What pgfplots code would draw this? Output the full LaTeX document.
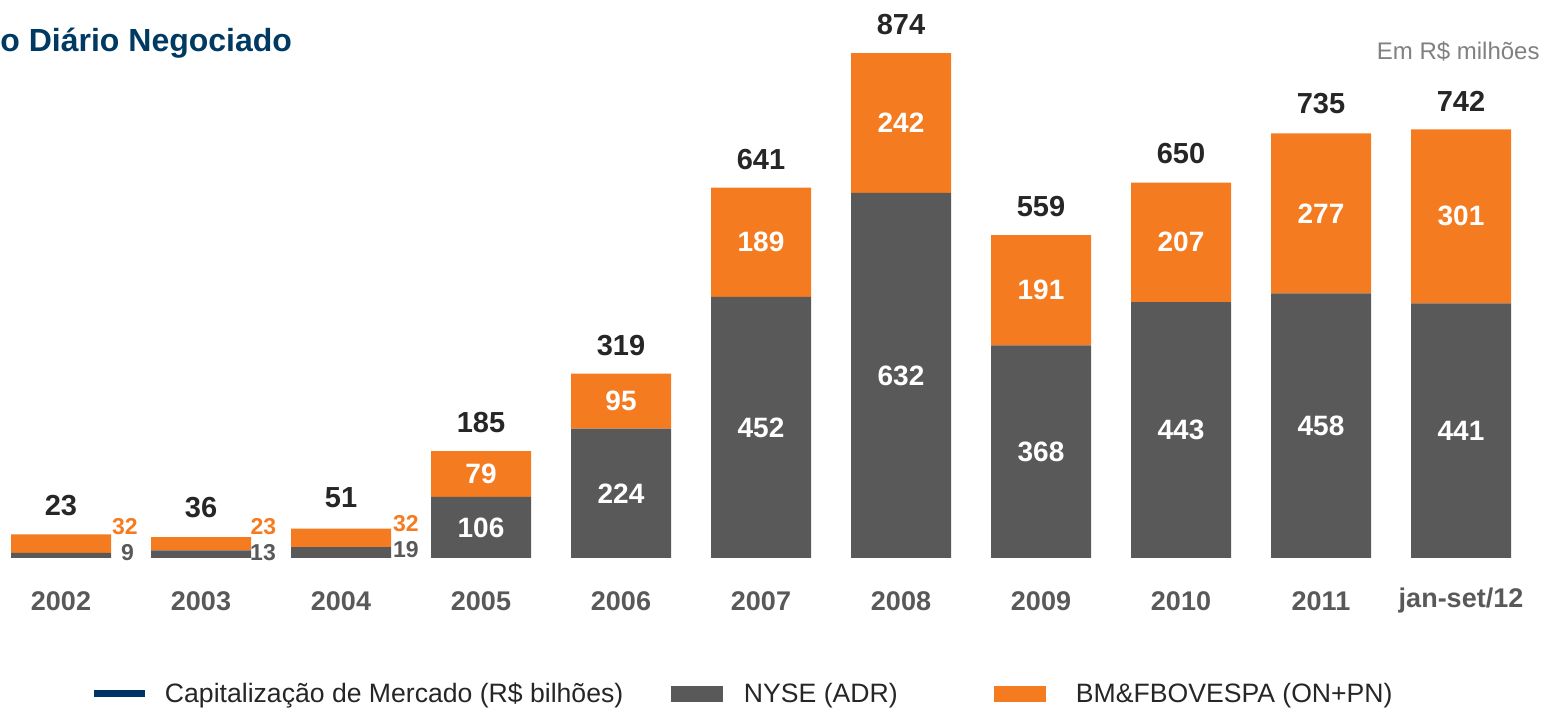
\documentclass[border=0pt]{standalone}
\usepackage{fontspec}
\setmainfont{Liberation Sans}
\usepackage{pgfplots}
\usepackage{pgfplotstable}
\pgfplotsset{compat=1.18}

\definecolor{cgray}{HTML}{595959}
\definecolor{corange}{HTML}{F47B20}
\definecolor{cnavy}{HTML}{003A63}
\definecolor{cline}{HTML}{003366}
\definecolor{ctext}{HTML}{262626}
\definecolor{clabel}{HTML}{595959}
\definecolor{cnote}{HTML}{808080}

\pgfplotstableread{
x nyse bm
0 9 32
1 13 23
2 19 32
3 106 79
4 224 95
5 452 189
6 632 242
7 368 191
8 443 207
9 458 277
10 441 301
}\bars

\pgfplotstableread{
x y label
3 53 106
3 145.5 79
4 112 224
4 271.5 95
5 226 452
5 546.5 189
6 316 632
6 753 242
7 184 368
7 463.5 191
8 221.5 443
8 546.5 207
9 229 458
9 596.5 277
10 220.5 441
10 591.5 301
}\inner

\pgfplotstableread{
x y label
0 90 23
1 87 36
2 104 51
3 234 185
4 367 319
5 689 641
6 923 874
7 608 559
8 700 650
9 786 735
10 791 742
}\totals

\pgfplotstableread{
x y label
0.457 53.7 32
1.446 53.7 23
2.464 58.9 32
}\sideorange

\pgfplotstableread{
x y label
0.475 8.7 9
1.443 8.7 13
2.464 13.9 19
}\sidegray

\pgfplotsset{
  geom/.style={
    at={(0pt,0pt)}, anchor=south west,
    scale only axis, width=771.5pt, height=279pt,
    xmin=-0.435714, xmax=10.585714, ymin=0, ymax=966,
    clip=false,
  },
  lbl/.style={draw=none, mark=none, nodes near coords={\pgfplotspointmeta},
    point meta=explicit symbolic},
}

\begin{document}
\begin{tikzpicture}
\begin{axis}[
  geom,
  ybar stacked, bar width=50pt,
  axis line style={draw=none}, tick style={draw=none},
  ytick=\empty,
  xtick={0,...,10},
  xticklabels={\textbf{2002},\textbf{2003},\textbf{2004},\textbf{2005},\textbf{2006},\textbf{2007},\textbf{2008},\textbf{2009},\textbf{2010},\textbf{2011},\textbf{jan-set/12}},
  xticklabel style={font=\fontsize{13.5}{15}\selectfont\bfseries, text=clabel, anchor=center, yshift=-21.5pt},
  legend columns=3,
  legend cell align=left,
  legend style={at={(0.05898,-0.2437)}, anchor=west, draw=none, fill=none,
    inner sep=0pt, outer sep=0pt,
    nodes={inner sep=0pt, text=ctext},
    font=\fontsize{13.3}{15}\selectfont,
    /tikz/column sep=0pt},
]
\addlegendimage{legend image code/.code={\draw[cline, line width=3.5pt] (0pt,0pt) -- (25.5pt,0pt);}}
\addplot[fill=cgray, draw=none,
  legend image code/.code={\fill[cgray] (0pt,-4pt) rectangle (26pt,4pt);}]
  table[x=x, y=nyse]{\bars};
\addplot[fill=corange, draw=none,
  legend image code/.code={\fill[corange] (0pt,-4pt) rectangle (26pt,4pt);}]
  table[x=x, y=bm]{\bars};
\legend{\makebox[261pt][l]{\hspace*{8pt}Capitalização de Mercado (R\$ bilhões)},
  \makebox[135.5pt][l]{\hspace*{10.5pt}NYSE (ADR)},
  \makebox[150pt][l]{\hspace*{15pt}BM\&FBOVESPA (ON+PN)}}
\end{axis}

\begin{axis}[geom, hide axis]
\addplot[lbl, nodes near coords style={anchor=center, text=white,
  font=\fontsize{14}{16}\selectfont\bfseries}] table[x=x, y=y, meta=label]{\inner};
\addplot[lbl, nodes near coords style={anchor=center, text=ctext,
  font=\fontsize{14.5}{16}\selectfont\bfseries}] table[x=x, y=y, meta=label]{\totals};
\addplot[lbl, nodes near coords style={anchor=center, text=corange,
  font=\fontsize{11.5}{13}\selectfont\bfseries}] table[x=x, y=y, meta=label]{\sideorange};
\addplot[lbl, nodes near coords style={anchor=center, text=clabel,
  font=\fontsize{11.5}{13}\selectfont\bfseries}] table[x=x, y=y, meta=label]{\sidegray};
\end{axis}

\node[anchor=base west, inner sep=0pt, text=cnavy,
  font=\fontsize{16}{18}\selectfont\bfseries] at (0pt,253pt) {o Diário Negociado};
\node[anchor=base east, inner sep=0pt, text=cnote,
  font=\fontsize{12}{14}\selectfont] at (770pt,249pt) {Em R\$ milhões};

\pgfresetboundingbox
\path[use as bounding box] (0pt,-76pt) rectangle (771.5pt,279pt);
\end{tikzpicture}
\end{document}
